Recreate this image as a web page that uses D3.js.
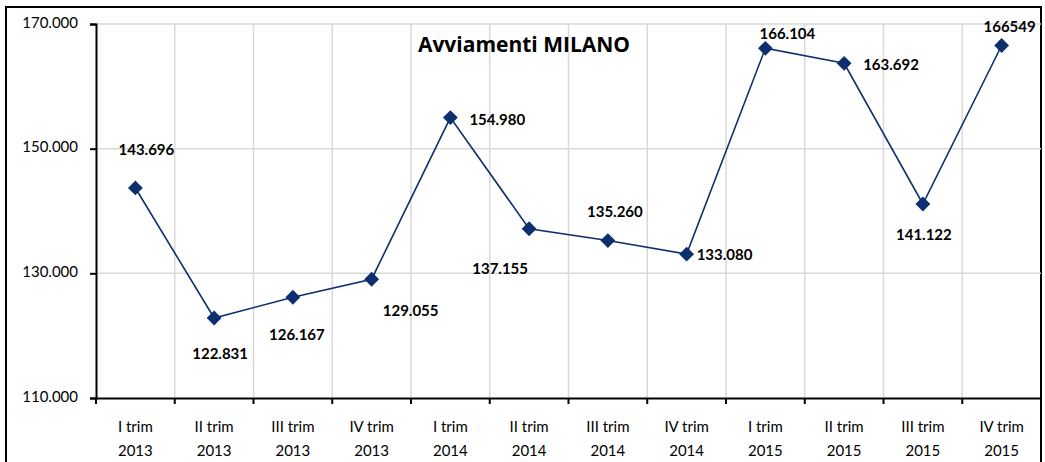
<!DOCTYPE html>
<html>
<head>
<meta charset="utf-8">
<script src="https://d3js.org/d3.v7.min.js"></script>
<style>
  body { margin: 0; background: #fff; }
  svg { display: block; }
  .tick text { font-family: Lato, "Open Sans", sans-serif; font-size: 15px; fill: #000; }
  .lbl { font-family: Lato, "Open Sans", sans-serif; font-size: 15px; font-weight: bold; fill: #000; }
  .xlbl { font-family: Lato, "Open Sans", sans-serif; font-size: 15px; fill: #000; }
</style>
</head>
<body>
<div id="chart"></div>
<script>
// dati
var quarters = ["I trim", "II trim", "III trim", "IV trim", "I trim", "II trim", "III trim", "IV trim", "I trim", "II trim", "III trim", "IV trim"];
var years = ["2013", "2013", "2013", "2013", "2014", "2014", "2014", "2014", "2015", "2015", "2015", "2015"];
var values = [143696, 122831, 126167, 129055, 154980, 137155, 135260, 133080, 166104, 163692, 141122, 166549];
var valueLabels = ["143.696", "122.831", "126.167", "129.055", "154.980", "137.155", "135.260", "133.080", "166.104", "163.692", "141.122", "166549"];
var yTicks = [110000, 130000, 150000, 170000];

// posizione etichette rispetto al punto: [dx, dy, anchor]
var labelPos = [
  [11, -33, "middle"], [6, 41, "middle"], [4, 43, "middle"], [39, 37, "middle"],
  [19, 7, "start"], [-29, 45, "middle"], [7, -24, "middle"], [10, 6, "start"],
  [22, -9, "middle"], [19, 7, "start"], [1, 36, "middle"], [8, -14, "middle"]
];

var width = 1045, height = 462;
var mLeft = 96, mRight = 1041, mTop = 24, mBottom = 398;

var svg = d3.select("#chart").append("svg")
  .attr("width", width)
  .attr("height", height);

// cornice esterna
svg.append("rect")
  .attr("x", 6).attr("y", 7)
  .attr("width", 1035).attr("height", 470)
  .attr("fill", "none")
  .attr("stroke", "#000")
  .attr("stroke-width", 2);

var idx = d3.range(values.length);
var x = d3.scaleBand().domain(idx).range([mLeft, mRight]);
var y = d3.scaleLinear().domain([110000, 170000]).range([mBottom, mTop]);

// griglia orizzontale
svg.append("g").selectAll("line")
  .data(yTicks.slice(1))
  .enter().append("line")
  .attr("x1", mLeft).attr("x2", mRight)
  .attr("y1", function(d){ return y(d); })
  .attr("y2", function(d){ return y(d); })
  .attr("stroke", "#d9d9d9").attr("stroke-width", 1.5);

// griglia verticale
svg.append("g").selectAll("line")
  .data(idx.slice(1))
  .enter().append("line")
  .attr("x1", function(d){ return x(d); })
  .attr("x2", function(d){ return x(d); })
  .attr("y1", mTop).attr("y2", mBottom)
  .attr("stroke", "#d9d9d9").attr("stroke-width", 1.5);

// asse y
var fmt = function(d){ return d3.format(",.0f")(d).replace(/,/g, "."); };
var yAxis = svg.append("g")
  .attr("transform", "translate(" + mLeft + ",0)")
  .call(d3.axisLeft(y).tickValues(yTicks).tickFormat(fmt).tickSize(6).tickPadding(12));
yAxis.select(".domain").attr("stroke", "#000").attr("stroke-width", 2);
yAxis.selectAll(".tick line").attr("stroke", "#000").attr("stroke-width", 2);
yAxis.selectAll(".tick text").attr("dy", "0.2em");

// asse x
var xAxis = svg.append("g")
  .attr("transform", "translate(0," + mBottom + ")")
  .call(d3.axisBottom(x).tickSize(0).tickFormat(""));
xAxis.select(".domain").attr("stroke", "#000").attr("stroke-width", 2);
xAxis.selectAll(".tick").remove();

svg.append("g").selectAll("line")
  .data(idx)
  .enter().append("line")
  .attr("x1", function(d){ return x(d); })
  .attr("x2", function(d){ return x(d); })
  .attr("y1", mBottom).attr("y2", mBottom + 6)
  .attr("stroke", "#000").attr("stroke-width", 2);

var cx = function(d){ return x(d) + x.bandwidth() / 2; };

var xl = svg.append("g").selectAll("text")
  .data(idx)
  .enter().append("text")
  .attr("class", "xlbl")
  .attr("text-anchor", "middle");
xl.append("tspan")
  .attr("x", cx)
  .attr("y", 432)
  .text(function(d){ return quarters[d]; });
xl.append("tspan")
  .attr("x", cx)
  .attr("y", 456)
  .text(function(d){ return years[d]; });

// linea
svg.append("path")
  .datum(idx)
  .attr("fill", "none")
  .attr("stroke", "#0e2f6e")
  .attr("stroke-width", 1.6)
  .attr("d", d3.line().x(cx).y(function(d){ return y(values[d]); }));

// marcatori
svg.append("g").selectAll("path")
  .data(idx)
  .enter().append("path")
  .attr("d", d3.symbol().type(d3.symbolDiamond2).size(140))
  .attr("transform", function(d){ return "translate(" + cx(d) + "," + y(values[d]) + ")"; })
  .attr("fill", "#0e2f6e");

// etichette
svg.append("g").selectAll("text")
  .data(idx)
  .enter().append("text")
  .attr("class", "lbl")
  .attr("x", function(d){ return cx(d) + labelPos[d][0]; })
  .attr("y", function(d){ return y(values[d]) + labelPos[d][1]; })
  .attr("text-anchor", function(d){ return labelPos[d][2]; })
  .text(function(d){ return valueLabels[d]; });

// titolo
svg.append("text")
  .attr("x", 524).attr("y", 52)
  .attr("text-anchor", "middle")
  .style("font-family", "'Open Sans', sans-serif")
  .style("font-size", "21px")
  .style("font-weight", "bold")
  .text("Avviamenti MILANO");
</script>
</body>
</html>
